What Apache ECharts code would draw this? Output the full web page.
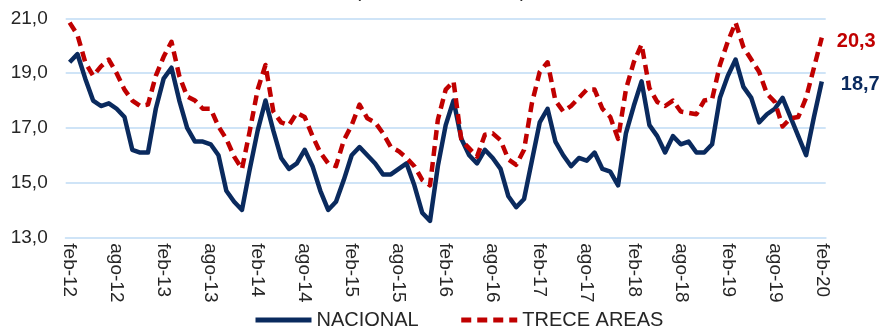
<!DOCTYPE html>
<html>
<head>
<meta charset="utf-8">
<script src="https://cdn.jsdelivr.net/npm/echarts@6/dist/echarts.min.js"></script>
<style>html,body{margin:0;padding:0;background:#fff;}#c{width:881px;height:328px;}</style>
</head>
<body>
<div id="c"></div>
<script>
const monthNames = ['ene','feb','mar','abr','may','jun','jul','ago','sep','oct','nov','dic'];
const startYear = 12, startMonth = 1, pointCount = 97;
const categories = [];
for (let i = 0; i < pointCount; i++) {
  const m = (startMonth + i) % 12;
  const y = startYear + Math.floor((startMonth + i) / 12);
  categories.push(monthNames[m] + '-' + y);
}
const yTicks = [13, 15, 17, 19, 21];
const seriesNames = ['NACIONAL', 'TRECE AREAS'];
const nacional = [
  19.4,19.7,18.8,18.0,17.8,17.9,17.7,17.4,16.2,16.1,16.1,17.7,
  18.8,19.2,18.0,17.0,16.5,16.5,16.4,16.0,14.7,14.3,14.0,15.5,
  16.9,18.0,16.9,15.9,15.5,15.7,16.2,15.6,14.7,14.0,14.3,15.1,
  16.0,16.3,16.0,15.7,15.3,15.3,15.5,15.7,14.9,13.9,13.6,15.6,
  17.1,18.0,16.6,16.0,15.7,16.2,15.9,15.5,14.5,14.1,14.4,15.8,
  17.2,17.7,16.5,16.0,15.6,15.9,15.8,16.1,15.5,15.4,14.9,16.8,
  17.8,18.7,17.1,16.7,16.1,16.7,16.4,16.5,16.1,16.1,16.4,18.1,
  18.9,19.5,18.5,18.1,17.2,17.5,17.7,18.1,17.4,16.7,16.0,17.4,
  18.7
];
const treceAreas = [
  20.85,20.4,19.4,18.9,19.25,19.5,19.0,18.4,18.0,17.8,17.85,18.9,
  19.6,20.15,18.9,18.15,18.0,17.7,17.7,17.05,16.6,15.95,15.5,16.9,
  18.4,19.3,17.6,17.2,17.1,17.55,17.4,16.7,16.1,15.7,15.6,16.55,
  17.1,17.85,17.35,17.2,16.8,16.3,16.15,15.9,15.6,15.1,14.9,17.3,
  18.4,18.7,16.55,16.25,15.95,16.75,16.8,16.55,15.85,15.65,16.2,17.9,
  19.05,19.4,18.0,17.6,17.8,18.1,18.4,18.4,17.7,17.4,16.6,18.4,
  19.4,20.05,18.45,17.95,17.8,18.0,17.6,17.55,17.5,18.0,18.05,19.3,
  20.15,20.85,19.95,19.5,19.05,18.25,17.95,17.05,17.35,17.4,18.1,19.2,
  20.3
];
const titleText = '(trimestre móvil, %)';

const NAVY = '#0a2a5e', RED = '#c00000', GRID = '#cfe4f7';
const FONT = 'Liberation Sans';
const fmt = v => v.toFixed(1).replace('.', ',');

const chart = echarts.init(document.getElementById('c'));
chart.setOption({
  animation: false,
  backgroundColor: '#fff',
  title: {
    text: titleText, left: 'center', top: -24,
    textStyle: { fontFamily: FONT, fontSize: 20, fontWeight: 'normal', color: '#262626' }
  },
  grid: { left: 65.7, right: 55.3, top: 18.5, bottom: 90.7, containLabel: false },
  legend: {
    data: seriesNames, bottom: -7, left: 248,
    itemWidth: 56, itemHeight: 14, itemGap: 40,
    itemStyle: { opacity: 0 },
    lineStyle: { width: 5 },
    textStyle: { fontFamily: FONT, fontSize: 20, color: '#262626' }
  },
  xAxis: {
    type: 'category', data: categories, boundaryGap: true,
    axisLine: { lineStyle: { color: GRID, width: 2 } },
    axisTick: { interval: 5, length: 6, lineStyle: { color: GRID, width: 2 } },
    axisLabel: { interval: 5, rotate: -90, margin: 6, fontFamily: FONT, fontSize: 19, color: '#262626' },
    splitLine: { show: false }
  },
  yAxis: {
    type: 'value', min: yTicks[0], max: yTicks[yTicks.length - 1], interval: 2,
    axisLine: { show: false }, axisTick: { show: false },
    axisLabel: { formatter: v => fmt(v), margin: 18, fontFamily: FONT, fontSize: 19, color: '#262626' },
    splitLine: { lineStyle: { color: GRID, width: 2 } }
  },
  series: [
    {
      name: seriesNames[0], type: 'line', data: nacional, symbol: 'none',
      lineStyle: { color: NAVY, width: 4.5, join: 'round' }, itemStyle: { color: NAVY },
      endLabel: { show: true, formatter: p => fmt(p.value), distance: 19, offset: [0, 3],
        fontFamily: FONT, fontSize: 20, fontWeight: 'bold', color: NAVY }
    },
    {
      name: seriesNames[1], type: 'line', data: treceAreas, symbol: 'none',
      lineStyle: { color: RED, width: 4.5, type: [10, 6], join: 'round' }, itemStyle: { color: RED },
      endLabel: { show: true, formatter: p => fmt(p.value), distance: 15, offset: [0, 4],
        fontFamily: FONT, fontSize: 20, fontWeight: 'bold', color: RED }
    }
  ]
});
</script>
</body>
</html>
